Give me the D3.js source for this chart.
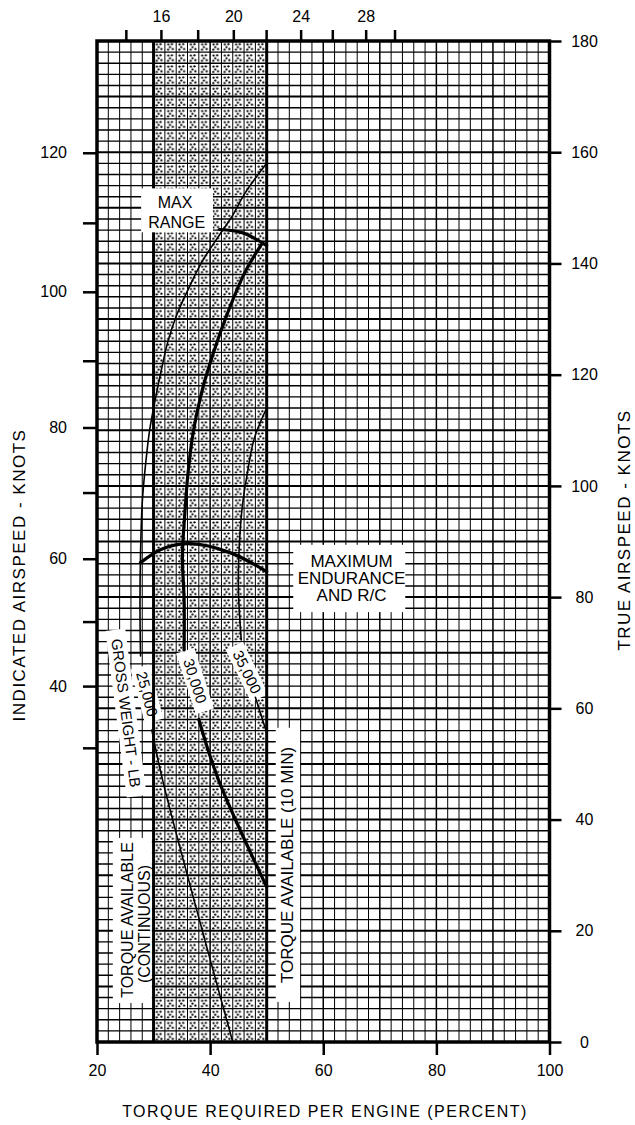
<!DOCTYPE html>
<html>
<head>
<meta charset="utf-8">
<script src="https://cdn.jsdelivr.net/npm/d3@7"></script>
<style>
	body { margin: 0; background: #fff; }
	svg { display: block; font-family: "Liberation Sans", Arial, Helvetica, sans-serif; }
</style>
</head>
<body>
<svg id="chart" width="635" height="1125"></svg>
<script>
/* Torque required per engine vs airspeed */

var bottomTicks = [20, 40, 60, 80, 100];
var rightTicks = [0, 20, 40, 60, 80, 100, 120, 140, 160, 180];
var iasTicks = [30, 40, 50, 60, 70, 80, 90, 100, 110, 120];
var iasAsTas = [52.9, 64.0, 75.6, 86.9, 98.8, 110.5, 122.5, 134.9, 147.3, 159.9];
var iasLabels = [40, 60, 80, 100, 120];
var topTicks = [14, 16, 18, 20, 22, 24, 26, 28, 30];
var topAsTorque = [25.1, 31.3, 37.8, 44.1, 49.9, 56.0, 61.6, 67.5, 72.6];
var topLabels = [16, 20, 24, 28];
var torqueLimits = [30, 50]; // continuous, 10 min

// [torque %, true airspeed kt], null = gap for the label
var gw25000 = [[50, 158], [46.2, 152.7], [43.9, 148.5], [41.5, 144.9], [38.5, 140.2], [36.1, 135.3],
	[34.0, 130.5], [32.5, 125.8], [31.2, 120], [30.2, 115], [29.3, 110], [28.6, 104], [28.0, 97],
	[27.7, 88], [27.6, 78], [27.7, 69.4], null, [29.7, 56.1], [31.6, 47.1], [44.0, 0]];
var gw30000 = [[49.3, 143.8], [46.1, 138.3], [43.1, 131.1], [40.6, 124.0], [38.5, 116.8], [37.0, 109.6],
	[36.1, 102.4], [35.5, 94.6], [35.1, 87.4], [35.4, 79.5], [35.4, 70.5], null,
	[38.0, 58], [41.5, 47.1], [50, 27.9]];
var gw35000 = [[50, 114], [47.8, 108.5], [46.6, 102.4], [45.7, 96.4], [45.1, 88], [45.0, 81.3],
	[45.5, 72.3], null, [48.0, 62], [50, 55.6]];
var maxEndurance = [[27.7, 86.2], [31.6, 88.7], [36.5, 89.6], [43.5, 88], [50, 84.6]];
var maxRange = [[41.6, 146.1], [45.8, 145.5], [50, 143.2]];

var svg = d3.select("#chart");
var x = d3.scaleLinear().domain([20, 100]).range([97, 549.5]);
var y = d3.scaleLinear().domain([0, 180]).range([1042, 41]);
var yIas = d3.scaleLinear().domain(iasTicks).range(iasAsTas.map(y));
var xTop = d3.scaleLinear().domain(topTicks).range(topAsTorque.map(x));

/* ------- stipple for the torque band ------- */
var cellW = x(22) - x(20), cellH = y(0) - y(2);
var pat = svg.append("defs").append("pattern")
	.attr("id", "stipple")
	.attr("patternUnits", "userSpaceOnUse")
	.attr("x", x(30)).attr("y", y(180))
	.attr("width", cellW).attr("height", cellH);
pat.append("rect").attr("width", cellW).attr("height", cellH).attr("fill", "#fff");
pat.selectAll("circle")
	.data([[0.3, 0.3], [0.62, 0.28], [0.45, 0.55], [0.28, 0.78], [0.7, 0.72]])
	.enter().append("circle")
	.attr("cx", function(d) { return d[0] * cellW; })
	.attr("cy", function(d) { return d[1] * cellH; })
	.attr("r", 1.1)
	.attr("fill", "#000");

svg.append("rect")
	.attr("x", x(torqueLimits[0])).attr("y", y(180))
	.attr("width", x(torqueLimits[1]) - x(torqueLimits[0]))
	.attr("height", y(0) - y(180))
	.attr("fill", "url(#stipple)");

/* ------- grid ------- */
var grid = svg.append("g").attr("stroke", "#000");
grid.selectAll("line.v").data(d3.range(22, 100, 2)).enter().append("line")
	.attr("class", "v")
	.attr("x1", function(d) { return x(d); }).attr("x2", function(d) { return x(d); })
	.attr("y1", y(180)).attr("y2", y(0))
	.attr("stroke-width", function(d) { return d % 10 === 0 ? 1.5 : 1; });
grid.selectAll("line.h").data(d3.range(2, 180, 2)).enter().append("line")
	.attr("class", "h")
	.attr("x1", x(20)).attr("x2", x(100))
	.attr("y1", function(d) { return y(d); }).attr("y2", function(d) { return y(d); })
	.attr("stroke-width", function(d) { return d % 10 === 0 ? 2 : 1.4; });

/* ------- white label boxes ------- */
function box(t0, t1, v0, v1) {
	svg.append("rect")
		.attr("x", x(t0)).attr("y", y(v1))
		.attr("width", x(t1) - x(t0)).attr("height", y(v0) - y(v1))
		.attr("fill", "#fff");
}
box(54.7, 74.5, 77.3, 89.4);   // maximum endurance
box(22.8, 29.7, 7.0, 36.7);    // torque available continuous
box(51.6, 55.9, 7.2, 56.5);    // torque available 10 min

function halo(cx, cy, ang, w, h) {
	svg.append("rect")
		.attr("transform", "translate(" + cx + "," + cy + ") rotate(" + ang + ")")
		.attr("x", -w / 2).attr("y", -h / 2).attr("width", w).attr("height", h)
		.attr("fill", "#fff");
}
halo(126, 713, 82.7, 168, 20);
halo(147, 694, 75, 56, 19);
halo(195, 681, 72, 64, 19);
halo(247, 672, 64, 58, 19);

/* ------- limits and frame ------- */
svg.selectAll("line.limit").data(torqueLimits).enter().append("line")
	.attr("class", "limit")
	.attr("x1", function(d) { return x(d); }).attr("x2", function(d) { return x(d); })
	.attr("y1", y(180)).attr("y2", y(0))
	.attr("stroke", "#000").attr("stroke-width", 3);

box(27.8, 40.5, 145.6, 153.5); // max range

svg.append("rect")
	.attr("x", x(20)).attr("y", y(180))
	.attr("width", x(100) - x(20)).attr("height", y(0) - y(180))
	.attr("fill", "none").attr("stroke", "#000").attr("stroke-width", 3.5);

/* ------- curves ------- */
var line = d3.line()
	.defined(function(d) { return d !== null; })
	.x(function(d) { return x(d[0]); })
	.y(function(d) { return y(d[1]); })
	.curve(d3.curveCatmullRom.alpha(0.5));

var curves = [
	{ pts: gw25000, w: 1.6 },
	{ pts: gw30000, w: 3.2 },
	{ pts: gw35000, w: 1.6 },
	{ pts: maxEndurance, w: 3.2 },
	{ pts: maxRange, w: 3.2 }
];
svg.append("g").selectAll("path").data(curves).enter().append("path")
	.attr("d", function(d) { return line(d.pts); })
	.attr("fill", "none")
	.attr("stroke", "#000")
	.attr("stroke-width", function(d) { return d.w; })
	.attr("stroke-linecap", "round");

/* ------- axes ------- */
function styleAxis(g) {
	g.select(".domain").remove();
	g.selectAll(".tick line").attr("stroke", "#000").attr("stroke-width", 2.5);
	g.selectAll(".tick text").attr("fill", "#000").style("font-size", "16px")
		.style("font-family", "'Liberation Sans', Arial, sans-serif");
}

svg.append("g").attr("transform", "translate(0," + y(0) + ")")
	.call(d3.axisBottom(x).tickValues(bottomTicks).tickSize(13).tickPadding(10))
	.call(styleAxis);

var axR = svg.append("g").attr("transform", "translate(" + x(100) + ",0)")
	.call(d3.axisRight(y).tickValues(rightTicks).tickSize(12).tickPadding(8))
	.call(styleAxis);
axR.selectAll(".tick text").attr("x", 35).attr("text-anchor", "middle");

svg.append("g").attr("transform", "translate(" + x(20) + ",0)")
	.call(d3.axisLeft(yIas).tickValues(iasTicks).tickSize(14).tickPadding(16)
		.tickFormat(function(d) { return iasLabels.indexOf(d) >= 0 ? d : ""; }))
	.call(styleAxis);

svg.append("g").attr("transform", "translate(0," + y(180) + ")")
	.call(d3.axisTop(xTop).tickValues(topTicks).tickSize(11).tickPadding(8)
		.tickFormat(function(d) { return topLabels.indexOf(d) >= 0 ? d : ""; }))
	.call(styleAxis);

/* ------- text ------- */
function label(txt, px, py, ang, size, anchor) {
	return svg.append("text")
		.attr("transform", "translate(" + px + "," + py + ") rotate(" + (ang || 0) + ")")
		.attr("text-anchor", anchor || "middle")
		.attr("fill", "#000")
		.style("font-size", (size || 16) + "px")
		.text(txt);
}

label("TORQUE REQUIRED PER ENGINE (PERCENT)", 325, 1117, 0, 16).style("letter-spacing", "1.5px");
label("INDICATED AIRSPEED - KNOTS", 25, 575, -90, 17).style("letter-spacing", "1.5px");
label("TRUE AIRSPEED - KNOTS", 630, 530, -90, 17).style("letter-spacing", "1.5px");

label("MAX", x(33.8), 208, 0, 16);
label("RANGE", x(34.1), 228, 0, 16);
label("MAXIMUM", x(65), 567, 0, 17);
label("ENDURANCE", x(65), 584, 0, 17);
label("AND R/C", x(65), 601, 0, 17);

label("TORQUE AVAILABLE", 133, 920, -90, 16);
label("(CONTINUOUS)", 150, 924, -90, 16);
label("TORQUE AVAILABLE (10 MIN)", 293, 865, -90, 17);

label("GROSS WEIGHT - LB", 126, 713, 82.7, 15).attr("dy", "0.35em");
label("25,000", 147, 694, 75, 15).attr("dy", "0.35em");
label("30,000", 195, 681, 72, 15).attr("dy", "0.35em");
label("35,000", 247, 672, 64, 15).attr("dy", "0.35em");
</script>
</body>
</html>
